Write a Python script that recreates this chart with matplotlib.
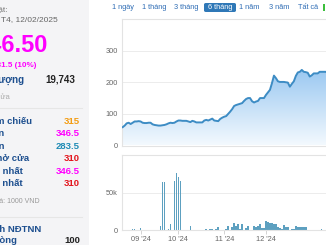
import numpy as np
import pandas as pd
import matplotlib
matplotlib.use("Agg")
import matplotlib.pyplot as plt
from matplotlib.patches import Rectangle, FancyBboxPatch

plt.rcParams['font.family'] = ['Liberation Sans', 'DejaVu Sans']

W, H = 326, 245

# trading days (Vietnam holidays skipped), first visible session 20/08/2024
holidays = ['2024-09-02', '2024-09-03', '2025-01-01']
sessions = pd.bdate_range('2024-08-20', periods=104, freq='C', holidays=holidays)

close = [58, 63, 70, 72, 68, 72, 76, 76, 77, 76,
         72, 71, 71, 72, 72, 67, 65, 64, 63, 63,
         64, 65, 67, 70, 72, 71, 72, 76, 79, 79,
         78, 78, 78, 76, 74, 78, 76, 73, 73, 73,
         73, 79, 81, 79, 82, 85, 79, 78, 77, 84,
         88, 91, 93, 100, 107, 115, 125, 128, 130, 132,
         134, 141, 147, 150, 150, 140, 136, 139, 141, 150,
         150, 150, 160, 168, 176, 197, 221, 213, 203, 201,
         201, 201, 200, 199, 186, 195, 203, 220, 231, 233,
         239, 233, 232, 230, 218, 222, 228, 228, 228, 233,
         233, 233, 233, 230]

volume = [0, 0, 0, 0, 0, 800, 800, 0, 0, 2500,
          0, 0, 0, 0, 0, 0, 0, 0, 0, 5000,
          64000, 65000, 0, 1000, 8000, 0, 66000, 77000, 72000, 66000,
          0, 0, 0, 0, 6000, 0, 0, 0, 0, 0,
          0, 0, 1000, 0, 1000, 1000, 0, 2000, 4000, 0,
          0, 0, 2000, 5500, 0, 4000, 9000, 6000, 7500, 1000,
          8000, 0, 3000, 5000, 0, 0, 5000, 3500, 6000, 8500,
          3000, 3000, 11500, 11000, 10000, 10000, 7500, 7500, 4000, 3000,
          2000, 7000, 4000, 4000, 0, 1000, 2000, 5500, 4000, 4000,
          3500, 3500, 3500, 0, 0, 0, 0, 0, 0, 0,
          2000, 0, 0, 0]

tabs = ['1 ngày', '1 tháng', '3 tháng', '6 tháng', '1 năm', '3 năm', 'Tất cả']
tab_x = [123, 154, 186.5, 220, 249.5, 279, 308]
selected_tab = '6 tháng'

rows = [('Tham chiếu', '315', '#f39c12'),
        ('Trần', '346.5', '#ff00ff'),
        ('Sàn', '283.5', '#1f8bb5'),
        ('Giá mở cửa', '310', '#e3141c'),
        ('Cao nhất', '346.5', '#ff00ff'),
        ('Thấp nhất', '310', '#e3141c')]
row_label_end = [32, 5, 5, 29, 23, 23]

month_labels = ["09 '24", "10 '24", "11 '24", "12 '24"]

label_blue = '#1d4f8f'
axis_gray = '#e3e3e3'
tick_gray = '#666666'


def fx(x):
    return x / W


def fy(y):
    return 1 - y / H


fig = plt.figure(figsize=(W / 100, H / 100), dpi=100)
fig.patch.set_facecolor('white')

# left info panel
fig.patches.append(Rectangle((0, fy(H)), fx(89), 1, transform=fig.transFigure,
                             facecolor='#f4f4f6', edgecolor='none', zorder=0))

fig.text(fx(8), fy(10), 'Cập nhật:', ha='right', va='center', fontsize=6, color='#777777')
fig.text(fx(1), fy(20), 'T4, 12/02/2025', ha='left', va='center', fontsize=6, color='#666666')
fig.text(fx(48), fy(46), '346.50', ha='right', va='center', fontsize=17, fontweight='bold',
         color='#ff00ff')
fig.text(fx(36), fy(65.5), '+31.5 (10%)', ha='right', va='center', fontsize=5.8,
         fontweight='bold', color='#ff00ff')
fig.text(fx(24), fy(80), 'Khối lượng', ha='right', va='center', fontsize=7,
         fontweight='bold', color=label_blue)
fig.text(fx(75), fy(80), '19,743', ha='right', va='center', fontsize=7,
         fontweight='bold', color='#222222')
fig.text(fx(10), fy(97), 'Đóng cửa', ha='right', va='center', fontsize=5.5, color='#aaaaaa')
fig.add_artist(plt.Line2D([0, fx(82)], [fy(108), fy(108)], color='#e6e6e6', lw=0.8))

for i, (name, val, col) in enumerate(rows):
    y = 121.5 + i * 12.4
    fig.text(fx(row_label_end[i]), fy(y), name, ha='right', va='center', fontsize=6.8,
             fontweight='bold', color=label_blue)
    fig.text(fx(80), fy(y), val, ha='right', va='center', fontsize=6.8,
             fontweight='bold', color=col)

fig.text(fx(40), fy(201.5), 'Đơn vị giá: 1000 VND', ha='right', va='center',
         fontsize=5, color='#999999')
fig.add_artist(plt.Line2D([0, fx(82)], [fy(217), fy(217)], color='#e6e6e6', lw=0.8))
fig.text(fx(41), fy(228.5), 'Giao dịch NĐTNN', ha='right', va='center', fontsize=6.8,
         fontweight='bold', color=label_blue)
fig.text(fx(17), fy(240.5), 'Mua ròng', ha='right', va='center', fontsize=6.8,
         fontweight='bold', color=label_blue)
fig.text(fx(80), fy(240.5), '100', ha='right', va='center', fontsize=6.8,
         fontweight='bold', color='#222222')

# range tabs
for name, x in zip(tabs, tab_x):
    if name == selected_tab:
        fig.patches.append(FancyBboxPatch((fx(204), fy(12)), fx(32), 9 / H,
                                          boxstyle='round,pad=0,rounding_size=0.006',
                                          transform=fig.transFigure,
                                          facecolor='#2f78b7', edgecolor='none'))
        fig.text(fx(x), fy(7.5), name, ha='center', va='center', fontsize=5.3,
                 color='white')
    else:
        fig.text(fx(x), fy(7.5), name, ha='center', va='center', fontsize=5.3,
                 color='#2f6db5')
fig.patches.append(Rectangle((fx(322.5), fy(11.5)), fx(2.5), 7 / H, transform=fig.transFigure,
                             facecolor='#3cbf3c', edgecolor='none'))

# chart geometry: session index -> pixels, 1.99 px per session
step = 1.99
x0 = 122.7
left_px, right_px = 122, 345
xmin = -(x0 - left_px) / step
xmax = xmin + (right_px - left_px) / step
idx = np.arange(len(close))

ax = fig.add_axes([fx(left_px), fy(145.5), fx(right_px - left_px), (145.5 - 19) / H])
poly = ax.fill_between(idx, close, 0, facecolor='none', edgecolor='none')
grad = np.linspace(0, 1, 256).reshape(-1, 1)
cmap = matplotlib.colors.LinearSegmentedColormap.from_list('g', ['#f3f9fe', '#9ac8f1'])
im = ax.imshow(grad, extent=[idx[0], idx[-1], 0, max(close)], origin='lower', cmap=cmap,
               aspect='auto', zorder=1)
im.set_clip_path(poly.get_paths()[0], transform=ax.transData)
ax.plot(idx, close, color='#3d8cc4', lw=1.4, zorder=3, solid_joinstyle='round')
ax.set_xlim(xmin, xmax)
ax.set_ylim(0, 400)
ax.set_yticks([0, 100, 200, 300])
ax.set_xticks([])
ax.grid(axis='y', color='#ececec', lw=0.7, zorder=0)
ax.set_axisbelow(True)

vax = fig.add_axes([fx(left_px), fy(230), fx(right_px - left_px), (230 - 155) / H])
vax.bar(idx, volume, width=0.8, color='#5da0c0', edgecolor='none', zorder=2)
vax.set_xlim(xmin, xmax)
vax.set_ylim(0, 101000)
vax.set_yticks([0, 50000])
vax.set_yticklabels(['0', '50k'])
vax.grid(axis='y', color='#ececec', lw=0.7, zorder=0)
vax.set_axisbelow(True)

months = pd.Series(sessions.month)
tick_idx = [i for i in range(1, len(sessions)) if months[i] != months[i - 1]][:len(month_labels)]
vax.set_xticks(tick_idx)
vax.set_xticklabels(month_labels)

for a in (ax, vax):
    for s in a.spines.values():
        s.set_color(axis_gray)
        s.set_linewidth(0.8)
    a.tick_params(axis='y', length=0, pad=3, labelsize=5.3, labelcolor=tick_gray)
vax.tick_params(axis='x', length=3, width=0.6, color='#cccccc', pad=1.5, labelsize=5.3,
                labelcolor=tick_gray)

fig.savefig('out.png', dpi=100)
